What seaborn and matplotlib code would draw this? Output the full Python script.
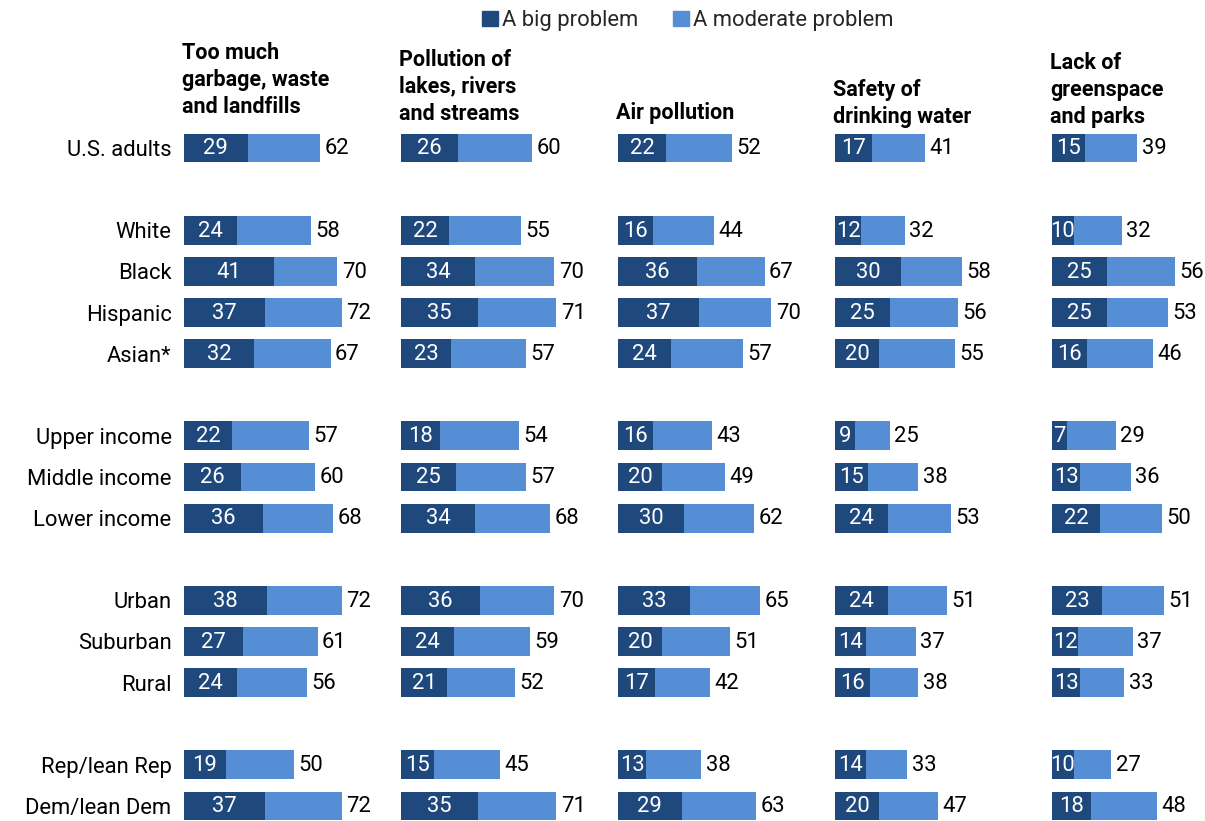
import matplotlib
matplotlib.use("Agg")
import matplotlib.pyplot as plt
import seaborn as sns
import pandas as pd
from matplotlib.patches import Patch

sns.set_theme(style="white")
plt.rcParams['font.family'] = ['Roboto', 'DejaVu Sans']

groups = ["U.S. adults", "White", "Black", "Hispanic", "Asian*",
          "Upper income", "Middle income", "Lower income",
          "Urban", "Suburban", "Rural", "Rep/lean Rep", "Dem/lean Dem"]

titles = ["Too much\ngarbage, waste\nand landfills",
          "Pollution of\nlakes, rivers\nand streams",
          "Air pollution",
          "Safety of\ndrinking water",
          "Lack of\ngreenspace\nand parks"]

big_garbage = [29, 24, 41, 37, 32, 22, 26, 36, 38, 27, 24, 19, 37]
tot_garbage = [62, 58, 70, 72, 67, 57, 60, 68, 72, 61, 56, 50, 72]
big_lakes = [26, 22, 34, 35, 23, 18, 25, 34, 36, 24, 21, 15, 35]
tot_lakes = [60, 55, 70, 71, 57, 54, 57, 68, 70, 59, 52, 45, 71]
big_air = [22, 16, 36, 37, 24, 16, 20, 30, 33, 20, 17, 13, 29]
tot_air = [52, 44, 67, 70, 57, 43, 49, 62, 65, 51, 42, 38, 63]
big_water = [17, 12, 30, 25, 20, 9, 15, 24, 24, 14, 16, 14, 20]
tot_water = [41, 32, 58, 56, 55, 25, 38, 53, 51, 37, 38, 33, 47]
big_green = [15, 10, 25, 25, 16, 7, 13, 22, 23, 12, 13, 10, 18]
tot_green = [39, 32, 56, 53, 46, 29, 36, 50, 51, 37, 33, 27, 48]

bigs = [big_garbage, big_lakes, big_air, big_water, big_green]
tots = [tot_garbage, tot_lakes, tot_air, tot_water, tot_green]

legend_labels = ["A big problem", "A moderate problem"]

DARK = "#1f497d"
LIGHT = "#558ed5"

# order with spacer rows between groups
order = ["U.S. adults", "_g1", "White", "Black", "Hispanic", "Asian*", "_g2",
         "Upper income", "Middle income", "Lower income", "_g3",
         "Urban", "Suburban", "Rural", "_g4", "Rep/lean Rep", "Dem/lean Dem"]

W, H = 1205, 821
fig = plt.figure(figsize=(W / 100, H / 100), dpi=100)

row_px = 41.1
top_px = 148 - 0.5 * row_px
ax_h = (H - top_px) / H
ymax_val = len(order) - 1 + (H - 806) / row_px

FS = 15.8
title_shift_px = [-5, 2, 1, 5, 5]

for i in range(5):
    left_px = 184 + 217 * i
    ax = fig.add_axes([left_px / W, 0, 180 / W, ax_h])
    df = pd.DataFrame({"group": groups, "big": bigs[i], "total": tots[i]})
    sns.barplot(data=df, x="total", y="group", order=order, color=LIGHT,
                width=0.7, orient="h", ax=ax, linewidth=0, saturation=1)
    sns.barplot(data=df, x="big", y="group", order=order, color=DARK,
                width=0.7, orient="h", ax=ax, linewidth=0, saturation=1)
    pos = {g: k for k, g in enumerate(order)}
    for g, b, t in zip(groups, bigs[i], tots[i]):
        y = pos[g]
        ax.text(b / 2, y + 0.02, str(b), ha="center", va="center",
                color="white", fontsize=FS)
        ax.text(t + 2.0, y + 0.02, str(t), ha="left", va="center",
                color="black", fontsize=FS)
    ax.set_xlim(0, 180 / 2.19)
    ax.set_ylim(ymax_val, -0.5)
    ax.set_xlabel("")
    ax.set_ylabel("")
    ax.set_xticks([])
    for s in ax.spines.values():
        s.set_visible(False)
    if i == 0:
        ax.set_yticks(range(len(order)))
        ax.set_yticklabels(["" if o.startswith("_g") else o for o in order],
                           fontsize=FS, color="black")
        ax.tick_params(axis="y", length=0, pad=9)
    else:
        ax.set_yticks([])
    ax.text(-0.8, -0.62 + title_shift_px[i] / row_px, titles[i],
            transform=ax.transData, ha="left", va="bottom", fontsize=15.5,
            fontweight="bold", color="black", linespacing=1.28)

handles = [Patch(color=DARK), Patch(color=LIGHT)]
fig.legend(handles, legend_labels, loc="upper center", bbox_to_anchor=(0.571, 1.012),
           ncol=2, frameon=False, fontsize=FS, handlelength=0.7, handleheight=0.7,
           handletextpad=0.2, columnspacing=1.6)

fig.savefig("out.png", dpi=100)
